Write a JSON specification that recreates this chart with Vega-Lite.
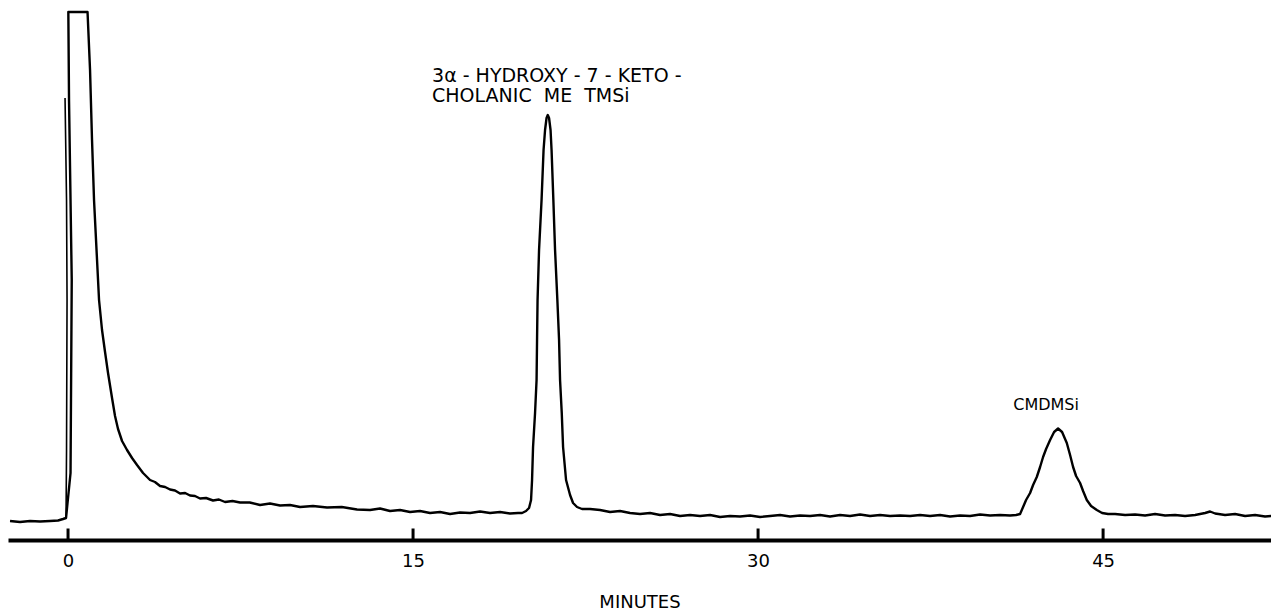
{
  "$schema": "https://vega.github.io/schema/vega-lite/v6.json",
  "width": 1263,
  "height": 540,
  "autosize": "none",
  "padding": {"left": 8, "top": 0, "right": 0, "bottom": 71},
  "background": "white",
  "config": {"view": {"stroke": null}},
  "datasets": {
    "trace": [
      {"i": 1, "t": -2.522, "r": 19}, {"i": 2, "t": -2.087, "r": 18}, {"i": 3, "t": -1.652, "r": 19}, {"i": 4, "t": -1.217, "r": 18.5},
      {"i": 5, "t": -0.783, "r": 19}, {"i": 6, "t": -0.435, "r": 19.5}, {"i": 7, "t": -0.217, "r": 21}, {"i": 8, "t": -0.087, "r": 22},
      {"i": 9, "t": 0.109, "r": 67}, {"i": 10, "t": 0.161, "r": 260}, {"i": 11, "t": 0.043, "r": 440}, {"i": 12, "t": 0.013, "r": 528},
      {"i": 13, "t": 0.435, "r": 528}, {"i": 14, "t": 0.848, "r": 528},
      {"i": 15, "t": 0.957, "r": 470}, {"i": 16, "t": 1.043, "r": 400}, {"i": 17, "t": 1.13, "r": 340}, {"i": 18, "t": 1.261, "r": 280},
      {"i": 19, "t": 1.348, "r": 240}, {"i": 20, "t": 1.478, "r": 210}, {"i": 21, "t": 1.609, "r": 188}, {"i": 22, "t": 1.739, "r": 167},
      {"i": 23, "t": 1.913, "r": 142}, {"i": 24, "t": 2.043, "r": 124}, {"i": 25, "t": 2.174, "r": 111}, {"i": 26, "t": 2.348, "r": 99},
      {"i": 27, "t": 2.565, "r": 90}, {"i": 28, "t": 2.783, "r": 82}, {"i": 29, "t": 3.0, "r": 75}, {"i": 30, "t": 3.261, "r": 67},
      {"i": 31, "t": 3.435, "r": 63}, {"i": 32, "t": 3.565, "r": 60}, {"i": 33, "t": 3.78, "r": 58}, {"i": 34, "t": 4.0, "r": 54},
      {"i": 35, "t": 4.22, "r": 53}, {"i": 36, "t": 4.435, "r": 50.5}, {"i": 37, "t": 4.65, "r": 49.5}, {"i": 38, "t": 4.87, "r": 46.5},
      {"i": 39, "t": 5.09, "r": 47}, {"i": 40, "t": 5.304, "r": 44.5}, {"i": 41, "t": 5.52, "r": 44}, {"i": 42, "t": 5.739, "r": 41.5},
      {"i": 43, "t": 6.0, "r": 42}, {"i": 44, "t": 6.304, "r": 39.5}, {"i": 45, "t": 6.56, "r": 40.5}, {"i": 46, "t": 6.826, "r": 38},
      {"i": 47, "t": 7.15, "r": 39}, {"i": 48, "t": 7.478, "r": 37.5}, {"i": 49, "t": 7.9, "r": 37.5}, {"i": 50, "t": 8.348, "r": 35},
      {"i": 51, "t": 8.78, "r": 36.5}, {"i": 52, "t": 9.217, "r": 34.5}, {"i": 53, "t": 9.65, "r": 35}, {"i": 54, "t": 10.087, "r": 33},
      {"i": 55, "t": 10.65, "r": 34}, {"i": 56, "t": 11.261, "r": 32.5}, {"i": 57, "t": 11.9, "r": 33}, {"i": 58, "t": 12.565, "r": 30.5},
      {"i": 59, "t": 13.13, "r": 30}, {"i": 60, "t": 13.565, "r": 31.5}, {"i": 61, "t": 14.0, "r": 29}, {"i": 62, "t": 14.435, "r": 30},
      {"i": 63, "t": 14.87, "r": 28}, {"i": 64, "t": 15.304, "r": 29}, {"i": 65, "t": 15.739, "r": 27}, {"i": 66, "t": 16.174, "r": 28},
      {"i": 67, "t": 16.609, "r": 26}, {"i": 68, "t": 17.043, "r": 27.5}, {"i": 69, "t": 17.478, "r": 27}, {"i": 70, "t": 17.913, "r": 28.5},
      {"i": 71, "t": 18.348, "r": 27}, {"i": 72, "t": 18.783, "r": 28}, {"i": 73, "t": 19.217, "r": 26.5}, {"i": 74, "t": 19.565, "r": 27},
      {"i": 75, "t": 19.739, "r": 27},
      {"i": 76, "t": 19.913, "r": 29}, {"i": 77, "t": 20.043, "r": 32}, {"i": 78, "t": 20.13, "r": 40}, {"i": 79, "t": 20.174, "r": 60},
      {"i": 80, "t": 20.217, "r": 93}, {"i": 81, "t": 20.304, "r": 127}, {"i": 82, "t": 20.37, "r": 160}, {"i": 83, "t": 20.391, "r": 200},
      {"i": 84, "t": 20.413, "r": 240}, {"i": 85, "t": 20.478, "r": 290}, {"i": 86, "t": 20.587, "r": 340}, {"i": 87, "t": 20.674, "r": 390},
      {"i": 88, "t": 20.739, "r": 410}, {"i": 89, "t": 20.804, "r": 422}, {"i": 90, "t": 20.857, "r": 425}, {"i": 91, "t": 20.913, "r": 422},
      {"i": 92, "t": 20.978, "r": 410}, {"i": 93, "t": 21.022, "r": 390}, {"i": 94, "t": 21.1, "r": 340}, {"i": 95, "t": 21.174, "r": 290},
      {"i": 96, "t": 21.274, "r": 240}, {"i": 97, "t": 21.348, "r": 200}, {"i": 98, "t": 21.391, "r": 160}, {"i": 99, "t": 21.465, "r": 127},
      {"i": 100, "t": 21.522, "r": 93}, {"i": 101, "t": 21.652, "r": 60}, {"i": 102, "t": 21.826, "r": 45}, {"i": 103, "t": 21.957, "r": 37},
      {"i": 104, "t": 22.13, "r": 33}, {"i": 105, "t": 22.348, "r": 31},
      {"i": 106, "t": 22.696, "r": 31}, {"i": 107, "t": 23.13, "r": 30}, {"i": 108, "t": 23.565, "r": 28}, {"i": 109, "t": 24.0, "r": 29},
      {"i": 110, "t": 24.435, "r": 27}, {"i": 111, "t": 24.87, "r": 26}, {"i": 112, "t": 25.304, "r": 27}, {"i": 113, "t": 25.739, "r": 25},
      {"i": 114, "t": 26.174, "r": 26}, {"i": 115, "t": 26.609, "r": 24}, {"i": 116, "t": 27.043, "r": 25}, {"i": 117, "t": 27.478, "r": 24},
      {"i": 118, "t": 27.913, "r": 25}, {"i": 119, "t": 28.348, "r": 23}, {"i": 120, "t": 28.783, "r": 24}, {"i": 121, "t": 29.217, "r": 23.5},
      {"i": 122, "t": 29.652, "r": 24.5}, {"i": 123, "t": 30.087, "r": 23}, {"i": 124, "t": 30.522, "r": 24}, {"i": 125, "t": 30.957, "r": 25},
      {"i": 126, "t": 31.391, "r": 23.5}, {"i": 127, "t": 31.826, "r": 24.5}, {"i": 128, "t": 32.261, "r": 24}, {"i": 129, "t": 32.696, "r": 25},
      {"i": 130, "t": 33.13, "r": 23.5}, {"i": 131, "t": 33.565, "r": 25}, {"i": 132, "t": 34.0, "r": 24}, {"i": 133, "t": 34.435, "r": 25.5},
      {"i": 134, "t": 34.87, "r": 24}, {"i": 135, "t": 35.304, "r": 25}, {"i": 136, "t": 35.739, "r": 24}, {"i": 137, "t": 36.174, "r": 24.5},
      {"i": 138, "t": 36.609, "r": 24}, {"i": 139, "t": 37.043, "r": 25}, {"i": 140, "t": 37.478, "r": 24}, {"i": 141, "t": 37.913, "r": 25},
      {"i": 142, "t": 38.348, "r": 23.5}, {"i": 143, "t": 38.783, "r": 24.5}, {"i": 144, "t": 39.217, "r": 24}, {"i": 145, "t": 39.652, "r": 25.5},
      {"i": 146, "t": 40.087, "r": 24.5}, {"i": 147, "t": 40.522, "r": 25}, {"i": 148, "t": 40.957, "r": 24.5}, {"i": 149, "t": 41.217, "r": 25},
      {"i": 150, "t": 41.391, "r": 26}, {"i": 151, "t": 41.522, "r": 33}, {"i": 152, "t": 41.652, "r": 40}, {"i": 153, "t": 41.826, "r": 47},
      {"i": 154, "t": 41.957, "r": 55}, {"i": 155, "t": 42.117, "r": 63}, {"i": 156, "t": 42.261, "r": 73}, {"i": 157, "t": 42.391, "r": 83},
      {"i": 158, "t": 42.522, "r": 91}, {"i": 159, "t": 42.696, "r": 100}, {"i": 160, "t": 42.87, "r": 108}, {"i": 161, "t": 43.043, "r": 111.5},
      {"i": 162, "t": 43.217, "r": 108}, {"i": 163, "t": 43.422, "r": 97}, {"i": 164, "t": 43.565, "r": 85}, {"i": 165, "t": 43.696, "r": 73},
      {"i": 166, "t": 43.826, "r": 64}, {"i": 167, "t": 44.0, "r": 57}, {"i": 168, "t": 44.13, "r": 49}, {"i": 169, "t": 44.291, "r": 40},
      {"i": 170, "t": 44.478, "r": 34}, {"i": 171, "t": 44.726, "r": 30}, {"i": 172, "t": 44.957, "r": 27}, {"i": 173, "t": 45.217, "r": 26},
      {"i": 174, "t": 45.522, "r": 26}, {"i": 175, "t": 45.957, "r": 25}, {"i": 176, "t": 46.391, "r": 25.5}, {"i": 177, "t": 46.826, "r": 24.5},
      {"i": 178, "t": 47.261, "r": 26}, {"i": 179, "t": 47.696, "r": 24.5}, {"i": 180, "t": 48.13, "r": 25}, {"i": 181, "t": 48.565, "r": 24},
      {"i": 182, "t": 49.0, "r": 25}, {"i": 183, "t": 49.435, "r": 27}, {"i": 184, "t": 49.652, "r": 28.5}, {"i": 185, "t": 49.87, "r": 26.5},
      {"i": 186, "t": 50.304, "r": 25}, {"i": 187, "t": 50.739, "r": 26}, {"i": 188, "t": 51.174, "r": 24}, {"i": 189, "t": 51.609, "r": 25},
      {"i": 190, "t": 52.043, "r": 23.5}, {"i": 191, "t": 52.304, "r": 24}
    ],
    "spike": [
      {"i": 1, "t": -0.13, "r": 442}, {"i": 2, "t": -0.065, "r": 340}, {"i": 3, "t": -0.043, "r": 240},
      {"i": 4, "t": -0.065, "r": 90}, {"i": 5, "t": -0.087, "r": 22}
    ],
    "tickmarks": [{"t": 0}, {"t": 15}, {"t": 30}, {"t": 45}],
    "labels": [
      {"group": "left", "t": 15.826, "r": 458, "label": "3α - HYDROXY - 7 - KETO -"},
      {"group": "left", "t": 15.826, "r": 438, "label": "CHOLANIC\u00a0\u00a0ME\u00a0\u00a0TMSi"},
      {"group": "center", "t": 42.52, "r": 130, "label": "CMDMSi"}
    ]
  },
  "layer": [
    {
      "data": {"name": "trace"},
      "mark": {"type": "line", "color": "black", "strokeWidth": 2.4, "strokeJoin": "round", "clip": true},
      "encoding": {
        "x": {
          "field": "t", "type": "quantitative",
          "scale": {"domain": [-2.61, 52.3], "nice": false, "zero": false},
          "axis": {
            "values": [0, 15, 30, 45],
            "title": "MINUTES",
            "grid": false,
            "domainWidth": 4, "domainColor": "black",
            "tickSize": -9, "tickOpacity": 0,
            "labelFont": "DejaVu Sans", "labelFontSize": 18, "labelColor": "black", "labelPadding": 21, "labelFlush": false,
            "titleFont": "DejaVu Sans", "titleFontSize": 18, "titleFontWeight": "normal", "titleColor": "black", "titlePadding": 23
          }
        },
        "y": {"field": "r", "type": "quantitative", "scale": {"domain": [0, 540], "nice": false, "zero": false}, "axis": null},
        "order": {"field": "i", "type": "quantitative"}
      }
    },
    {
      "data": {"name": "spike"},
      "mark": {"type": "line", "color": "black", "strokeWidth": 1.6},
      "encoding": {
        "x": {"field": "t", "type": "quantitative"},
        "y": {"field": "r", "type": "quantitative"},
        "order": {"field": "i", "type": "quantitative"}
      }
    },
    {
      "data": {"name": "tickmarks"},
      "mark": {"type": "tick", "orient": "vertical", "color": "black", "size": 11, "thickness": 3, "opacity": 1},
      "encoding": {
        "x": {"field": "t", "type": "quantitative"},
        "y": {"datum": 6, "type": "quantitative"}
      }
    },
    {
      "data": {"name": "labels"},
      "transform": [{"filter": "datum.group === 'left'"}],
      "mark": {"type": "text", "align": "left", "baseline": "alphabetic", "font": "DejaVu Sans", "fontSize": 19, "color": "black"},
      "encoding": {
        "x": {"field": "t", "type": "quantitative"},
        "y": {"field": "r", "type": "quantitative"},
        "text": {"field": "label"}
      }
    },
    {
      "data": {"name": "labels"},
      "transform": [{"filter": "datum.group === 'center'"}],
      "mark": {"type": "text", "align": "center", "baseline": "alphabetic", "font": "DejaVu Sans", "fontSize": 16, "color": "black"},
      "encoding": {
        "x": {"field": "t", "type": "quantitative"},
        "y": {"field": "r", "type": "quantitative"},
        "text": {"field": "label"}
      }
    }
  ]
}
